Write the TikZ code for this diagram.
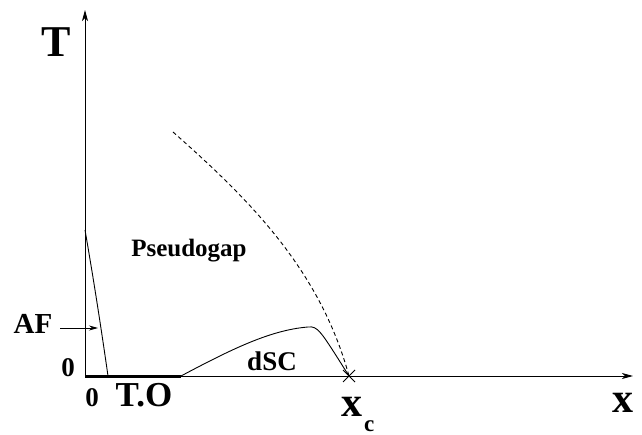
\documentclass[tikz,border=0pt]{standalone}
\usepackage{fontspec}
\setmainfont{Liberation Serif}
\usetikzlibrary{arrows.meta}
\begin{document}
\begin{tikzpicture}[x=1pt,y=-1pt,
  lbl/.style={inner sep=0pt,anchor=base},
  axis/.style={line width=1pt,-{Stealth[length=11pt,width=6pt,inset=3pt]}},
  curve/.style={line width=0.9pt}]
\useasboundingbox (0,0) rectangle (642,435);
\coordinate (O) at (85,376);
\coordinate (Ytip) at (85,10);
\coordinate (Xtip) at (633,376);
\coordinate (TOend) at (181,376);
\coordinate (AFtop) at (85,230);
\coordinate (AFbot) at (108,376);
\coordinate (xc) at (349,376);
\coordinate (dtop) at (173,132);
\coordinate (afarrowS) at (60,328);
\coordinate (afarrowE) at (98,328);
\draw[axis] (O) -- (Ytip);
\draw[axis] (O) -- (Xtip);
\draw[line width=3pt] (O) -- (TOend);
\draw[curve] (AFtop) .. controls (92,270) and (100,320) .. (AFbot);
\draw[curve] (TOend) .. controls (230,350) and (270,330) .. (308,327) .. controls (318,326) and (320,330) .. (xc);
\draw[curve,dashed,dash pattern=on 4pt off 3pt] (dtop) .. controls (250,200) and (320,270) .. (xc);
\draw[line width=0.8pt] (343,370) -- (355,382) (343,382) -- (355,370);
\draw[line width=0.8pt,-{Stealth[length=9pt,width=5pt]}] (afarrowS) -- (afarrowE);
\node[lbl,font=\bfseries\fontsize{44}{44}\selectfont] (T) at (56,57) {T};
\node[lbl,font=\bfseries\fontsize{29}{29}\selectfont] (AF) at (33,334) {AF};
\node[lbl,font=\bfseries\fontsize{27}{27}\selectfont] (z1) at (68,376) {0};
\node[lbl,font=\bfseries\fontsize{27}{27}\selectfont] (z2) at (92,406) {0};
\node[lbl,font=\bfseries\fontsize{35}{35}\selectfont] (TO) at (144,406) {T.O};
\node[lbl,font=\bfseries\fontsize{25}{25}\selectfont] (pg) at (189,257) {Pseudogap};
\node[lbl,font=\bfseries\fontsize{27}{27}\selectfont] (dsc) at (272,370) {dSC};
\node[lbl,font=\bfseries\fontsize{42}{42}\selectfont] (xcl) at (352,416) {x};
\node[lbl,font=\bfseries\fontsize{23}{23}\selectfont,anchor=base west] (xcsub) at (364,431) {c};
\node[lbl,font=\bfseries\fontsize{42}{42}\selectfont] (xl) at (623,412) {x};
\end{tikzpicture}
\end{document}
